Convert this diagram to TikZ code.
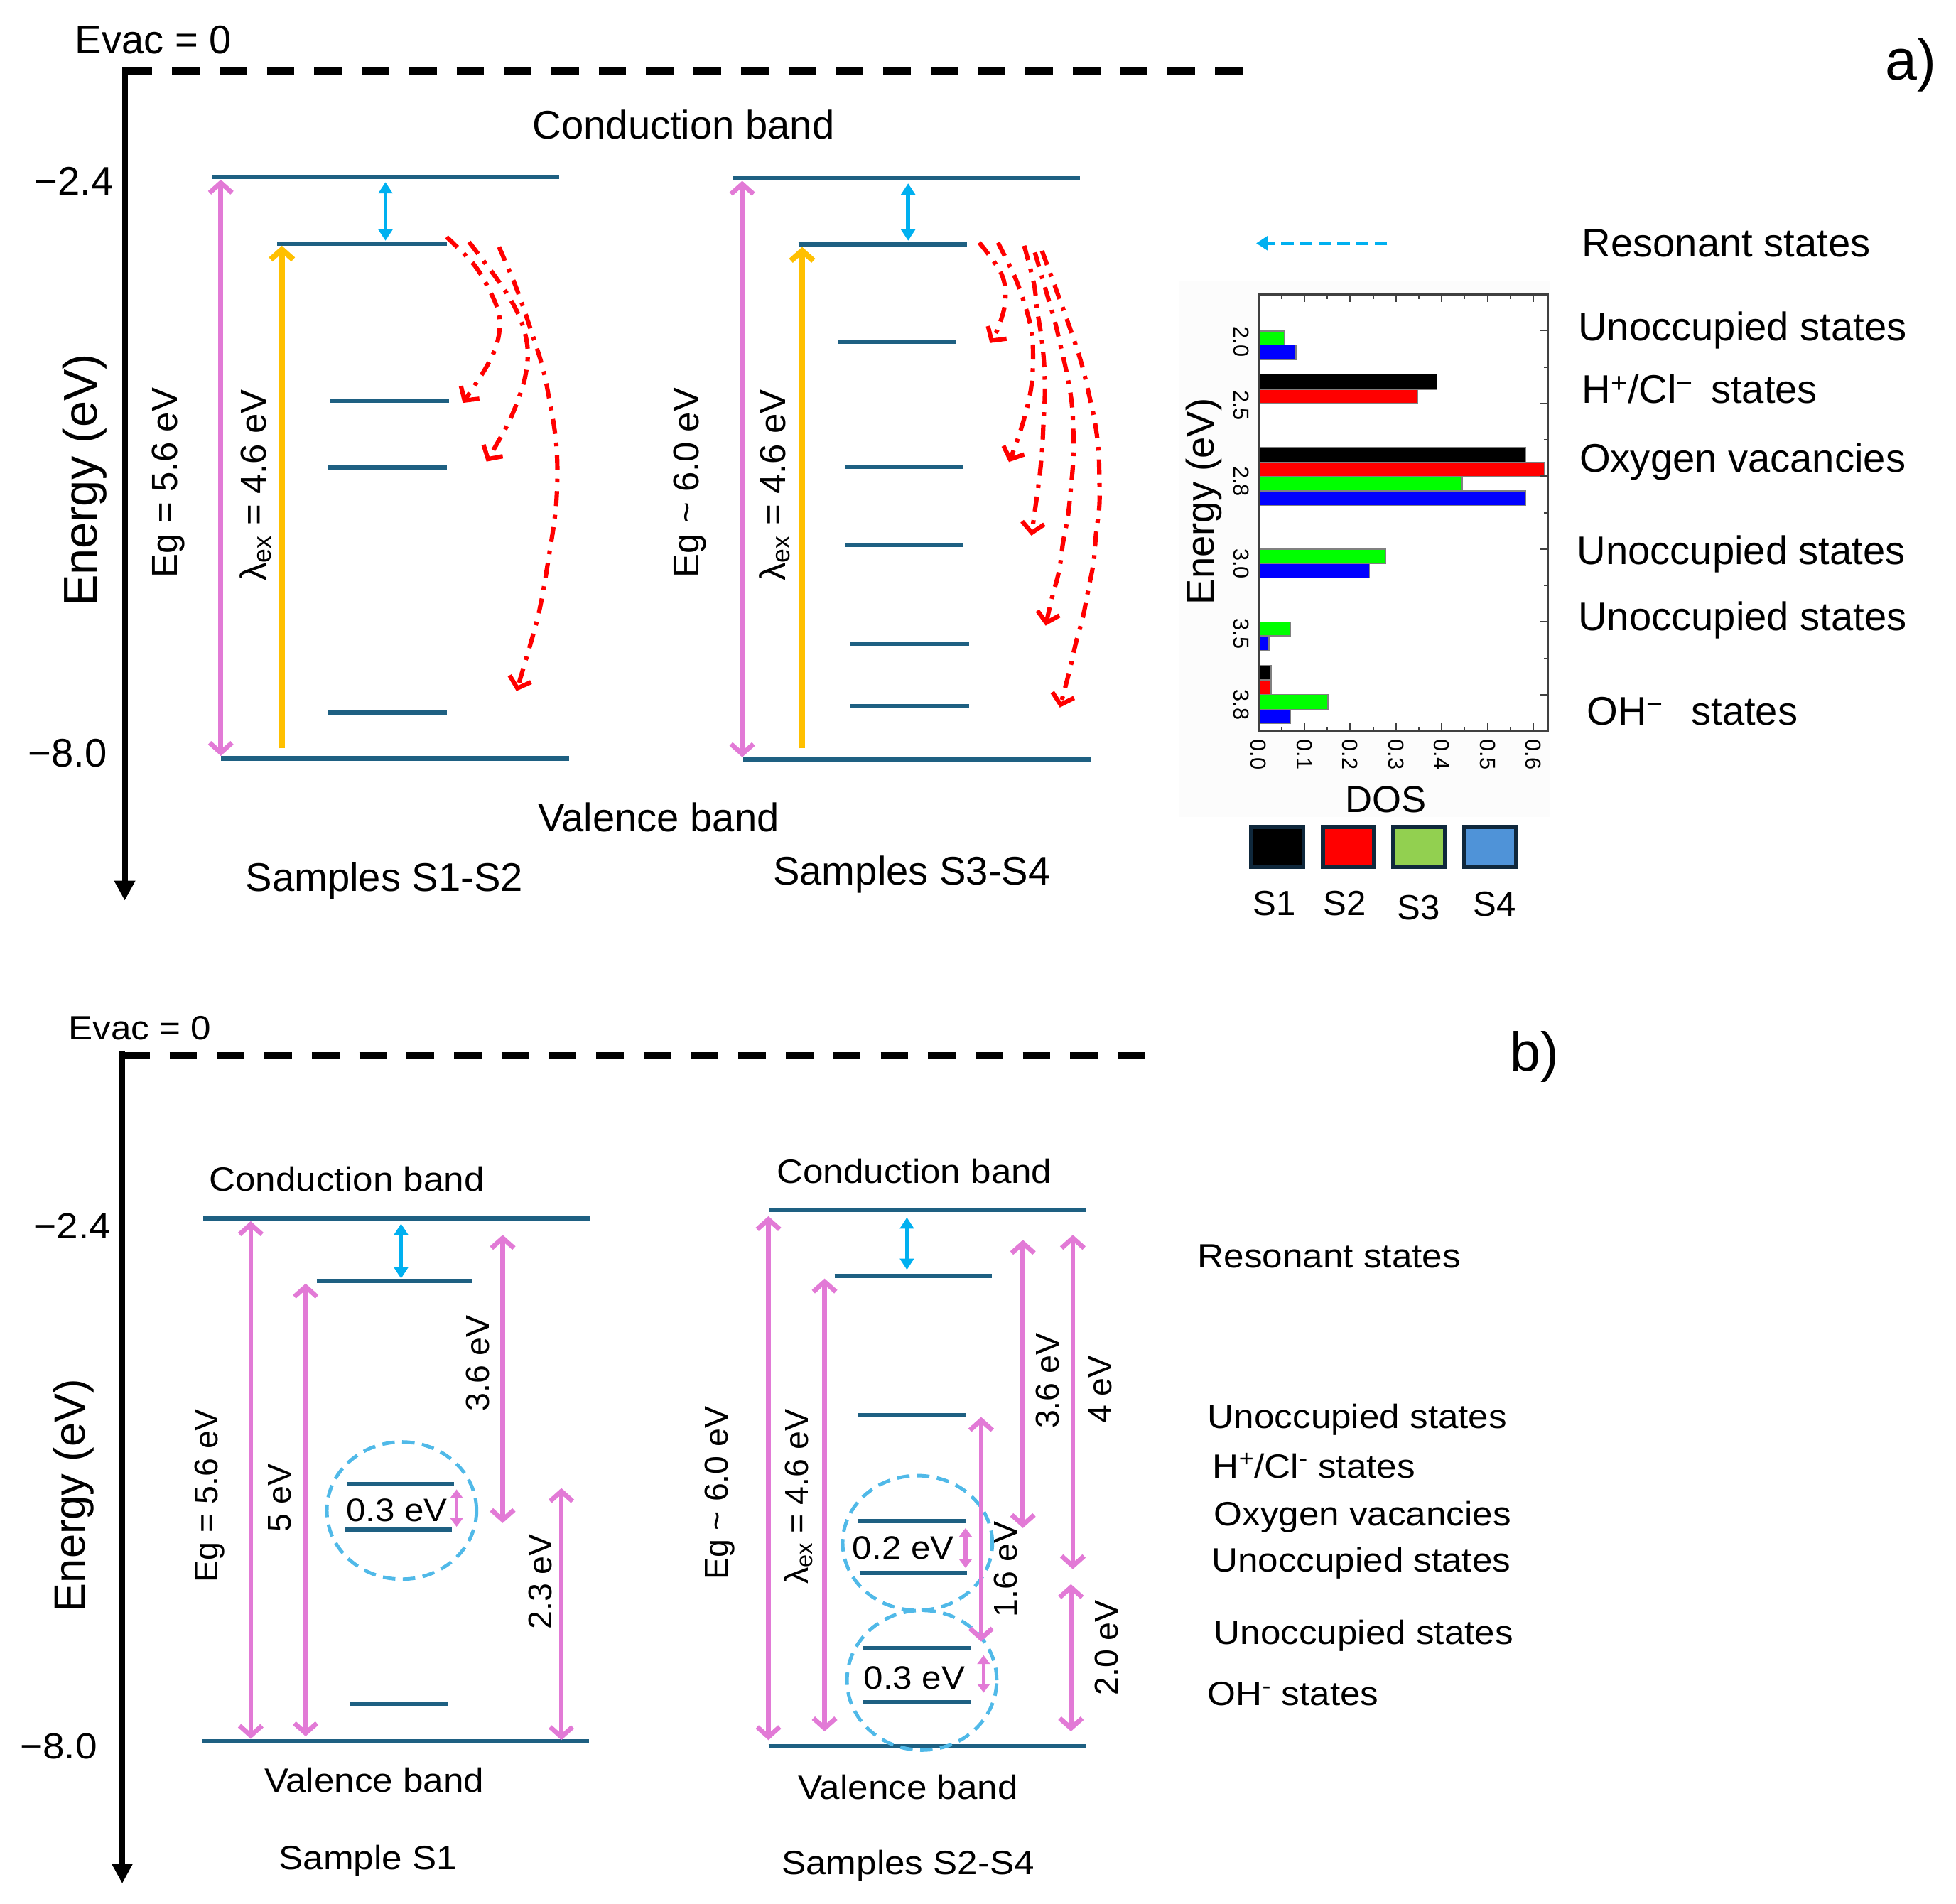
\documentclass[tikz,border=0pt]{standalone}
\usepackage{fontspec}
\setmainfont{Liberation Sans}
\newfontfamily\wfont[FakeStretch=1.08]{Liberation Sans}
\usetikzlibrary{arrows.meta}
\newcommand{\fsz}[1]{\fontsize{#1}{#1}\selectfont}
\newcommand{\dosbar}[4]{\filldraw[fill=#4, draw=gray, line width=0.8pt] (1009,#1) rectangle (#3,#2);}
\definecolor{band}{RGB}{30,96,130}
\definecolor{pinkc}{RGB}{226,122,214}
\definecolor{goldc}{RGB}{255,192,0}
\definecolor{cyanc}{RGB}{0,176,240}
\definecolor{ellc}{RGB}{80,185,232}
\definecolor{navy}{RGB}{15,40,60}
\definecolor{lgreen}{RGB}{146,208,80}
\definecolor{lblue}{RGB}{79,147,216}
\definecolor{bgreen}{RGB}{0,255,0}
\definecolor{bblue}{RGB}{0,0,255}
\definecolor{panel}{RGB}{252,252,252}
\tikzset{
  every node/.style={inner sep=0pt},
  lvl/.style={draw=band, line width=3.5pt},
  pk/.style={draw=pinkc, line width=3.8pt, {Straight Barb[length=8pt,width=18pt]}-{Straight Barb[length=8pt,width=18pt]}},
  yl/.style={draw=goldc, line width=4.5pt, -{Straight Barb[length=8pt,width=18pt]}},
  cy/.style={draw=cyanc, line width=3.2pt, {Triangle[length=9pt,width=11pt]}-{Triangle[length=9pt,width=11pt]}},
  spk/.style={draw=pinkc, line width=3pt, {Triangle[length=7pt,width=10pt]}-{Triangle[length=7pt,width=10pt]}},
  rd/.style={draw=red, line width=3.5pt, dash pattern=on 12pt off 7pt on 3pt off 7pt, -{Straight Barb[length=8pt,width=18pt]}},
  ell/.style={draw=ellc, line width=2.8pt, dash pattern=on 10pt off 6pt},
  ax/.style={line width=4.5pt, -{Triangle[length=16pt,width=16pt]}},
  evac/.style={line width=5.5pt, dash pattern=on 22pt off 16pt},
  ta/.style={font=\fsz{32}},
  tb/.style={font=\wfont\fsz{27}},
  rl/.style={font=\fsz{29}, rotate=90},
  rlb/.style={font=\fsz{26.5}, rotate=90},
  tk/.style={font=\fsz{17.5}, rotate=-90},
  leg/.style={draw=navy, line width=3pt},
  ev/.style={font=\wfont\fsz{26}},
}
\begin{document}
\begin{tikzpicture}[x=1pt,y=-1pt]
\useasboundingbox (0,0) rectangle (1568,1526);

% ================= part a =================
\fill[panel] (945,225) rectangle (1243,655);
\draw[evac] (100,57) -- (1000,57);
\draw[ax] (100,54) -- (100,722);
\node[ta] (evacA) at (123,32) {Evac = 0};
\node[font=\fsz{46}] (lblA) at (1532,52) {a)};
\node[ta, anchor=east] (m24A) at (91,145) {−2.4};
\node[ta, anchor=east] (m80A) at (86,604) {−8.0};
\node[font=\fsz{38}, rotate=90] (enA) at (68,385) {Energy (eV)};
\node[ta] (cbA) at (548,100) {Conduction band};
\node[ta] (vbA) at (528,655) {Valence band};
\node[ta] (s12) at (308,706) {Samples S1-S2};
\node[ta] (s34) at (731,701) {Samples S3-S4};

% left diagram a
\draw[lvl] (170,142) -- (448,142);
\draw[lvl] (222,195.5) -- (358,195.5);
\draw[lvl] (265,321) -- (360,321);
\draw[lvl] (263,375) -- (358,375);
\draw[lvl] (263,571) -- (358,571);
\draw[lvl] (177,608) -- (456,608);
\draw[pk] (177,144) -- (177,606);
\draw[yl] (226,600) -- (226,197);
\draw[cy] (309,146) -- (309,193);
\node[rl] (egA1) at (135,387) {Eg = 5.6 eV};
\node[rl] (lxA1) at (205,389) {λ\textsubscript{ex} = 4.6 eV};
\draw[rd] plot[smooth, tension=0.6] coordinates {(358,190) (379,211) (391,230) (400,252) (399,273) (390,294) (371,323)};
\draw[rd] plot[smooth, tension=0.6] coordinates {(376,194) (395,219) (408,238) (418,258) (423,280) (421,302) (414,324) (405,344) (390,370)};
\draw[rd] plot[smooth, tension=0.6] coordinates {(400,198) (412,226) (420,248) (427,269) (434,291) (439,313) (446,357) (446,402) (440,446) (432,491) (420,534) (414,554)};

% right diagram a
\draw[lvl] (588,143) -- (866,143);
\draw[lvl] (640,196) -- (775,196);
\draw[lvl] (672,274) -- (766,274);
\draw[lvl] (678,374) -- (772,374);
\draw[lvl] (678,437) -- (772,437);
\draw[lvl] (682,516) -- (777,516);
\draw[lvl] (682,566) -- (777,566);
\draw[lvl] (596,609) -- (874,609);
\draw[pk] (595,145) -- (595,607);
\draw[yl] (643,600) -- (643,198);
\draw[cy] (728,147) -- (728,193);
\node[rl] (egA2) at (553,387) {Eg \textasciitilde\ 6.0 eV};
\node[rl] (lxA2) at (621,389) {λ\textsubscript{ex} = 4.6 eV};
\draw[rd] plot[smooth, tension=0.6] coordinates {(785,194.5) (802.7,219.4) (805.9,241.2) (800.2,262.7) (793.6,275)};
\draw[rd] plot[smooth, tension=0.6] coordinates {(800,194.5) (813.5,222) (821.1,243.1) (826.8,264.6) (828.1,286.4) (826.8,309.5) (822.1,331.5) (815.4,353.3) (808.8,370.4)};
\draw[rd] plot[smooth, tension=0.6] coordinates {(821,197) (828.7,226.8) (831.5,249.1) (835,271.1) (837.1,293.7) (837.6,316) (836.5,338.9) (835.3,362) (833.1,384) (830,406.6) (826.8,429.4)};
\draw[rd] plot[smooth, tension=0.6] coordinates {(829.6,202.4) (839.1,235.2) (845.2,256.2) (850.5,278.5) (855.3,300) (859.1,322.6) (860.4,345.4) (860.4,367.7) (858.5,390.8) (856.2,412.9) (852.1,435.4) (849,457.5) (843.3,479.3) (838.2,501.6)};
\draw[rd] plot[smooth, tension=0.6] coordinates {(835.3,201.1) (845.8,229.9) (853.4,250.9) (861,272.7) (867.6,293.7) (872.9,316) (877.7,338.3) (880.5,360.4) (881.3,382.9) (881.3,405.3) (878.6,428.1) (876.7,450.4) (872.4,472.7) (868,495) (862.3,516) (857.2,538.3) (849.6,567.2)};

% resonant arrow and labels a
\draw[draw=cyanc, line width=3pt, dash pattern=on 10pt off 5pt, -{Triangle[length=9pt,width=11pt]}] (1112,195) -- (1007,195);
\node[ta, anchor=west] (resA) at (1268,195) {Resonant states};
\node[ta, anchor=west] (un1A) at (1265,265) {Unoccupied states};
\node[ta, anchor=west] (hclA) at (1268,312) {H\textsuperscript{+}/Cl\textsuperscript{−}\hspace{14pt}states};
\node[ta, anchor=west] (oxA) at (1266,370) {Oxygen vacancies};
\node[ta, anchor=west] (un2A) at (1264,444) {Unoccupied states};
\node[ta, anchor=west] (un3A) at (1265,497) {Unoccupied states};
\node[ta, anchor=west] (ohA) at (1272,570) {OH\textsuperscript{−}\hspace{22pt}states};

% DOS chart
\fill[white] (1009,236) rectangle (1241,586);
\dosbar{265.3}{276.5}{1029.4}{bgreen}
\dosbar{276.5}{288.5}{1038.8}{bblue}
\dosbar{300.0}{312.0}{1151.9}{black}
\dosbar{312.0}{323.5}{1136.2}{red}
\dosbar{358.8}{370.6}{1223.1}{black}
\dosbar{370.6}{381.8}{1238.1}{red}
\dosbar{381.8}{393.6}{1172.2}{bgreen}
\dosbar{393.6}{405.1}{1223.1}{bblue}
\dosbar{440.3}{451.6}{1110.6}{bgreen}
\dosbar{451.6}{463.3}{1097.9}{bblue}
\dosbar{498.6}{509.8}{1034.2}{bgreen}
\dosbar{509.8}{521.6}{1017.2}{bblue}
\dosbar{533.4}{545.1}{1018.9}{black}
\dosbar{545.1}{556.9}{1018.9}{red}
\dosbar{556.9}{568.6}{1064.6}{bgreen}
\dosbar{568.6}{580.1}{1034.6}{bblue}
\draw[black!75, line width=1.3pt] (1009,236) rectangle (1241,586);
\foreach \k in {0,...,6}{
  \draw[black!75, line width=1.1pt] ({1009+36.7*\k},586) -- ++(0,-6);
  \draw[black!75, line width=1.1pt] ({1009+36.7*\k},236) -- ++(0,6);
}
\foreach \k in {0,...,5}{
  \draw[black!75, line width=1.1pt] ({1027.35+36.7*\k},586) -- ++(0,-3.5);
  \draw[black!75, line width=1.1pt] ({1027.35+36.7*\k},236) -- ++(0,3.5);
}
\foreach \yy in {264.7,323.5,381.8,440.3,498.6,556.9}{
  \draw[black!75, line width=1.1pt] (1241,\yy) -- ++(-6,0);
}
\foreach \yy in {294.3,352.8,411.1,469.3,527.9}{
  \draw[black!75, line width=1.1pt] (1241,\yy) -- ++(-3.5,0);
}
\node[tk] (c20) at (995,274) {2.0};
\node[tk] (c25) at (995,325) {2.5};
\node[tk] (c28) at (995,386) {2.8};
\node[tk] (c30) at (995,452) {3.0};
\node[tk] (c35) at (995,508) {3.5};
\node[tk] (c38) at (995,565) {3.8};
\node[tk] (v0) at (1009.0,605) {0.0};
\node[tk] (v1) at (1045.7,605) {0.1};
\node[tk] (v2) at (1082.4,605) {0.2};
\node[tk] (v3) at (1119.1,605) {0.3};
\node[tk] (v4) at (1155.8,605) {0.4};
\node[tk] (v5) at (1192.5,605) {0.5};
\node[tk] (v6) at (1229.2,605) {0.6};
\node[font=\fsz{31}, rotate=90] (enD) at (965,402) {Energy (eV)};
\node[font=\fsz{30}] (dos) at (1111,641) {DOS};
\draw[leg, fill=black] (1003,663) rectangle (1045,695);
\draw[leg, fill=red] (1060.5,663) rectangle (1101.5,695);
\draw[leg, fill=lgreen] (1116.5,663) rectangle (1158.5,695);
\draw[leg, fill=lblue] (1173.5,663) rectangle (1215.5,695);
\node[font=\fsz{28}] (l1) at (1021.5,724) {S1};
\node[font=\fsz{28}] (l2) at (1078,724) {S2};
\node[font=\fsz{28}] (l3) at (1137,727.5) {S3};
\node[font=\fsz{28}] (l4) at (1198,725) {S4};

% ================= part b =================
\draw[evac] (98,846) -- (918,846);
\draw[ax] (98,843) -- (98,1510);
\node[tb] (evacB) at (112,824) {Evac = 0};
\node[font=\fsz{44}] (lblB) at (1230,847) {b)};
\node[tb, font=\wfont\fsz{29}, anchor=east] (m24B) at (89,983) {−2.4};
\node[tb, font=\wfont\fsz{29}, anchor=east] (m80B) at (78,1400) {−8.0};
\node[font=\fsz{35}, rotate=90] (enB) at (59,1199) {Energy (eV)};

% left diagram b
\node[tb] (cbB1) at (278,945) {Conduction band};
\draw[lvl] (163,977) -- (473,977);
\draw[lvl] (254,1027) -- (379,1027);
\draw[lvl] (278,1190) -- (364,1190);
\draw[lvl] (277,1226) -- (362,1226);
\draw[lvl] (281,1366) -- (359,1366);
\draw[lvl] (162,1396) -- (472,1396);
\draw[ell] (322,1211) ellipse [x radius=60pt, y radius=55pt];
\node[ev] (e03a) at (318,1211) {0.3 eV};
\draw[spk] (366,1194) -- (366,1224);
\draw[pk] (201,979) -- (201,1394);
\draw[pk] (245,1029) -- (245,1392);
\draw[pk] (403,990) -- (403,1221);
\draw[pk] (450,1193) -- (450,1395);
\draw[cy] (321.5,981) -- (321.5,1025);
\node[rlb] (egB1) at (168,1199) {Eg = 5.6 eV};
\node[rlb] (fiveB) at (224,1201) {5 eV};
\node[rlb] (t36B1) at (383,1093) {3.6 eV};
\node[rlb] (t23B) at (433,1268) {2.3 eV};
\node[tb] (vbB1) at (300,1427) {Valence band};
\node[tb] (sB1) at (295,1492) {Sample S1};

% right diagram b
\node[tb] (cbB2) at (733,939) {Conduction band};
\draw[lvl] (616,970) -- (871,970);
\draw[lvl] (669,1023) -- (795,1023);
\draw[lvl] (688,1134.5) -- (774,1134.5);
\draw[lvl] (688,1219.5) -- (774,1219.5);
\draw[lvl] (689,1261) -- (775,1261);
\draw[lvl] (692,1321.5) -- (778,1321.5);
\draw[lvl] (692,1364.5) -- (778,1364.5);
\draw[lvl] (616,1400) -- (871,1400);
\draw[ell] (735.5,1237) ellipse [x radius=60pt, y radius=54pt];
\draw[ell] (739,1347) ellipse [x radius=60pt, y radius=56pt];
\node[ev] (e02) at (724,1241) {0.2 eV};
\node[ev] (e03b) at (733,1345) {0.3 eV};
\draw[spk] (774,1225) -- (774,1257);
\draw[spk] (788.5,1327) -- (788.5,1357);
\draw[pk] (616,975) -- (616,1395);
\draw[pk] (661,1025) -- (661,1388);
\draw[pk] (786.5,1136) -- (786.5,1316);
\draw[pk] (820,994) -- (820,1225);
\draw[pk] (860,990) -- (860,1258);
\draw[pk] (858.5,1270) -- (858.5,1388);
\draw[cy] (727,976) -- (727,1018);
\node[rlb] (egB2) at (577,1197) {Eg \textasciitilde\ 6.0 eV};
\node[rlb] (lxB2) at (640,1200) {λ\textsubscript{ex} = 4.6 eV};
\node[rlb] (t36B2) at (840,1107) {3.6 eV};
\node[rlb] (t4B) at (882,1114) {4 eV};
\node[rlb] (t16B) at (806,1258) {1.6 eV};
\node[rlb] (t20B) at (887,1321) {2.0 eV};
\node[tb] (vbB2) at (728,1433) {Valence band};
\node[tb] (sB2) at (728,1496) {Samples S2-S4};

% labels b
\node[tb, anchor=west] (resB) at (960,1007) {Resonant states};
\node[tb, anchor=west] (un1B) at (968,1138) {Unoccupied states};
\node[tb, anchor=west] (hclB) at (972,1175) {H\textsuperscript{+}/Cl\textsuperscript{-} states};
\node[tb, anchor=west] (oxB) at (973,1216) {Oxygen vacancies};
\node[tb, anchor=west] (un2B) at (971,1253) {Unoccupied states};
\node[tb, anchor=west] (un3B) at (973,1311) {Unoccupied states};
\node[tb, anchor=west] (ohB) at (968,1358) {OH\textsuperscript{-} states};
\end{tikzpicture}
\end{document}
